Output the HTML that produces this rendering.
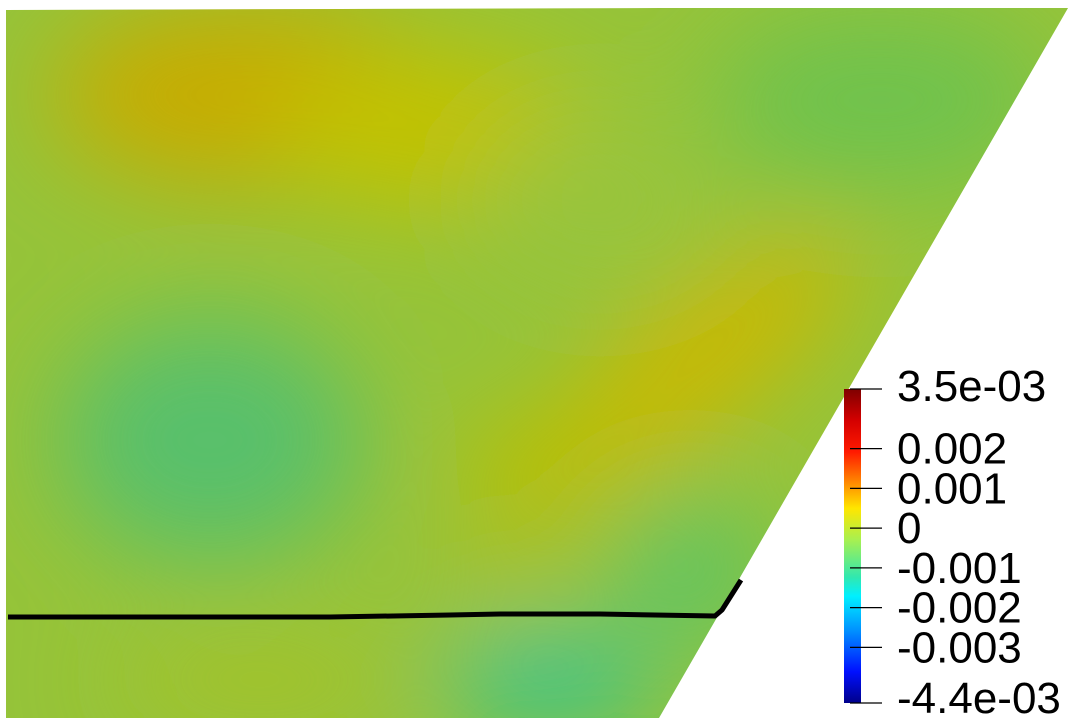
<!DOCTYPE html>
<html><head><meta charset="utf-8"><style>
html,body{margin:0;padding:0;background:#fff;width:1070px;height:726px;overflow:hidden}
svg{display:block;overflow:hidden}
text{font-family:"Liberation Sans",sans-serif;fill:#000}
</style></head><body>
<svg id="plot" width="1070" height="726" viewBox="0 0 1070 726">
<defs>
<clipPath id="dom"><polygon points="6,10 660,8 1068,8 659,718 6,718"/></clipPath>
<filter id="bl" filterUnits="userSpaceOnUse" x="-300" y="-300" width="1700" height="1400"><feGaussianBlur stdDeviation="50"/></filter>
<linearGradient id="jet" x1="0" y1="0" x2="0" y2="1">
<stop offset="0" stop-color="#7f0000"/>
<stop offset="0.1" stop-color="#d40000"/>
<stop offset="0.2" stop-color="#ff1a00"/>
<stop offset="0.3" stop-color="#ff8c00"/>
<stop offset="0.38" stop-color="#ffe600"/>
<stop offset="0.48" stop-color="#a8f050"/>
<stop offset="0.6" stop-color="#30e8b0"/>
<stop offset="0.66" stop-color="#00f0ff"/>
<stop offset="0.77" stop-color="#0090ff"/>
<stop offset="0.9" stop-color="#0010ff"/>
<stop offset="1" stop-color="#00008a"/>
</linearGradient>
</defs>
<g clip-path="url(#dom)">
<rect x="0" y="0" width="1070" height="720" fill="#96c43a"/>
<g filter="url(#bl)">
<ellipse cx="250" cy="95" rx="200" ry="90" fill="#c8ac00"/>
<ellipse cx="430" cy="130" rx="160" ry="80" fill="#c2c200"/>
<ellipse cx="880" cy="100" rx="170" ry="90" fill="#70c24e"/>
<ellipse cx="700" cy="360" rx="190" ry="60" fill="#ccb800" transform="rotate(-38 700 360)"/>
<ellipse cx="560" cy="470" rx="100" ry="55" fill="#bcbe00"/>
<ellipse cx="210" cy="440" rx="150" ry="120" fill="#58c06c"/>
<ellipse cx="550" cy="680" rx="110" ry="40" fill="#1ec4a4"/>
<ellipse cx="260" cy="680" rx="150" ry="40" fill="#a4c22a"/>
<ellipse cx="690" cy="570" rx="80" ry="70" fill="#5ec464"/>
<ellipse cx="500" cy="575" rx="60" ry="30" fill="#aac026"/>
<ellipse cx="600" cy="200" rx="120" ry="80" fill="#98c43c"/>
</g>
</g>
<polyline id="crack" fill="none" stroke="#000" stroke-width="5" stroke-linejoin="round"
points="8,617 200,617 330,617 450,615 500,614 600,614 715,616 722,610 741,580"/>
<rect x="844" y="389" width="17" height="314" fill="url(#jet)"/>
<g id="ticks"></g>
</svg>
<script>
const tickValues=[0.0035,0.002,0.001,0,-0.001,-0.002,-0.003,-0.0044];
const tickLabels=["3.5e-03","0.002","0.001","0","-0.001","-0.002","-0.003","-4.4e-03"];
const vmin=-0.0044, vmax=0.0035;
function yScale(v){return 389+(vmax-v)/(vmax-vmin)*314;}
const g=document.getElementById('ticks');
const ns='http://www.w3.org/2000/svg';
tickValues.forEach((v,i)=>{
  const y=yScale(v);
  const l=document.createElementNS(ns,'line');
  l.setAttribute('x1',850);l.setAttribute('x2',882);l.setAttribute('y1',y);l.setAttribute('y2',y);
  l.setAttribute('stroke','#000');l.setAttribute('stroke-width','1.2');
  
  
  g.appendChild(l);
  const t=document.createElementNS(ns,'text');
  let ty=y+15;
  if(i===0) ty=y+12;
  if(i===tickValues.length-1) ty=y+10;
  t.setAttribute('x',897);t.setAttribute('y',ty);
  t.setAttribute('font-size','44');
  t.textContent=tickLabels[i];
  
  
  g.appendChild(t);
});
</script>
</body></html>
